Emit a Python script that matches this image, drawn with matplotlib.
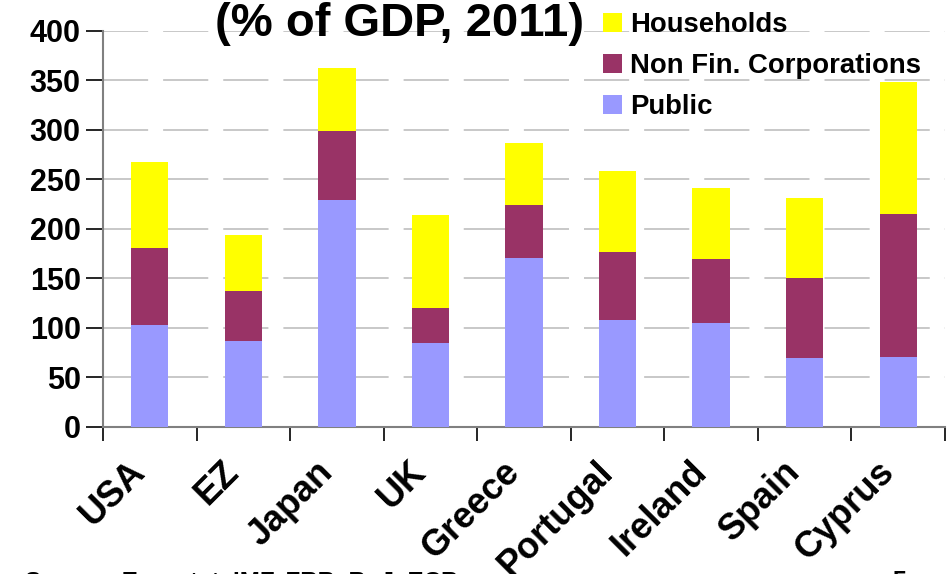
import numpy as np
import matplotlib.pyplot as plt

plt.rcParams['font.family'] = ['Liberation Sans', 'DejaVu Sans']
plt.rcParams['font.weight'] = 'bold'

countries = ["USA", "EZ", "Japan", "UK", "Greece", "Portugal", "Ireland", "Spain", "Cyprus"]
public = [103, 87, 229, 85, 171, 108, 105, 70, 71]
non_fin_corp = [78, 50, 70, 35, 53, 69, 65, 80, 144]
households = [87, 57, 64, 94, 63, 82, 71, 81, 133]

col_public = "#9999ff"
col_nfc = "#993366"
col_hh = "#ffff00"

fig = plt.figure(figsize=(9.49, 5.74), dpi=100)
ax = fig.add_axes([0.1085, 0.2561, 0.8873, 0.6899])

x = np.arange(len(countries))
w = 0.40
pub = np.array(public)
nfc = np.array(non_fin_corp)
hh = np.array(households)
ax.bar(x, pub, w, color=col_public, label="Public", zorder=3)
ax.bar(x, nfc, w, bottom=pub, color=col_nfc, label="Non Fin. Corporations", zorder=3)
ax.bar(x, hh, w, bottom=pub + nfc, color=col_hh, label="Households", zorder=3)

ax.set_xlim(-0.5, len(countries) - 0.5)
ax.set_ylim(0, 400)
ax.set_yticks(range(0, 401, 50))
ax.tick_params(axis='y', labelsize=22, length=12, width=1.2, direction='out', pad=4)
for lab in ax.get_yticklabels():
    lab.set_fontweight('bold')
ax.yaxis.grid(True, color="#c4c4c4", linewidth=1.3, linestyle=(0, (25, 8.3)), zorder=0)

# tick marks between categories, labels written separately
ax.set_xticks(np.arange(-0.5, len(countries), 1.0))
ax.set_xticklabels([])
ax.tick_params(axis='x', length=10, width=1.2, direction='out')
for i, name in enumerate(countries):
    ax.text(i - 0.1, -40, name, rotation=45, rotation_mode='anchor',
            ha='right', va='center', fontsize=26, fontweight='bold')

for s in ['top', 'right']:
    ax.spines[s].set_visible(False)
ax.spines['left'].set_color('#808080')
ax.spines['left'].set_linewidth(1.5)
ax.spines['bottom'].set_color('#808080')
ax.spines['bottom'].set_linewidth(1.5)

handles, labels = ax.get_legend_handles_labels()
leg = ax.legend(handles[::-1], labels[::-1], loc='upper left', bbox_to_anchor=(0.565, 1.11),
                frameon=False, prop={'weight': 'bold', 'size': 19.8},
                handlelength=0.68, handleheight=0.68, handletextpad=0.3, labelspacing=0.55)

fig.text(0.4215, 0.958, "(% of GDP, 2011)", ha='center', va='center', fontsize=34, fontweight='bold')
fig.text(0.026, -0.014, "Source: Eurostat, IMF, FRB, BoJ, ECB", ha='left', va='center', fontsize=17.4, fontweight='bold')
fig.text(0.948, -0.014, "5", ha='center', va='center', fontsize=18)

fig.savefig("out.png", dpi=100)
